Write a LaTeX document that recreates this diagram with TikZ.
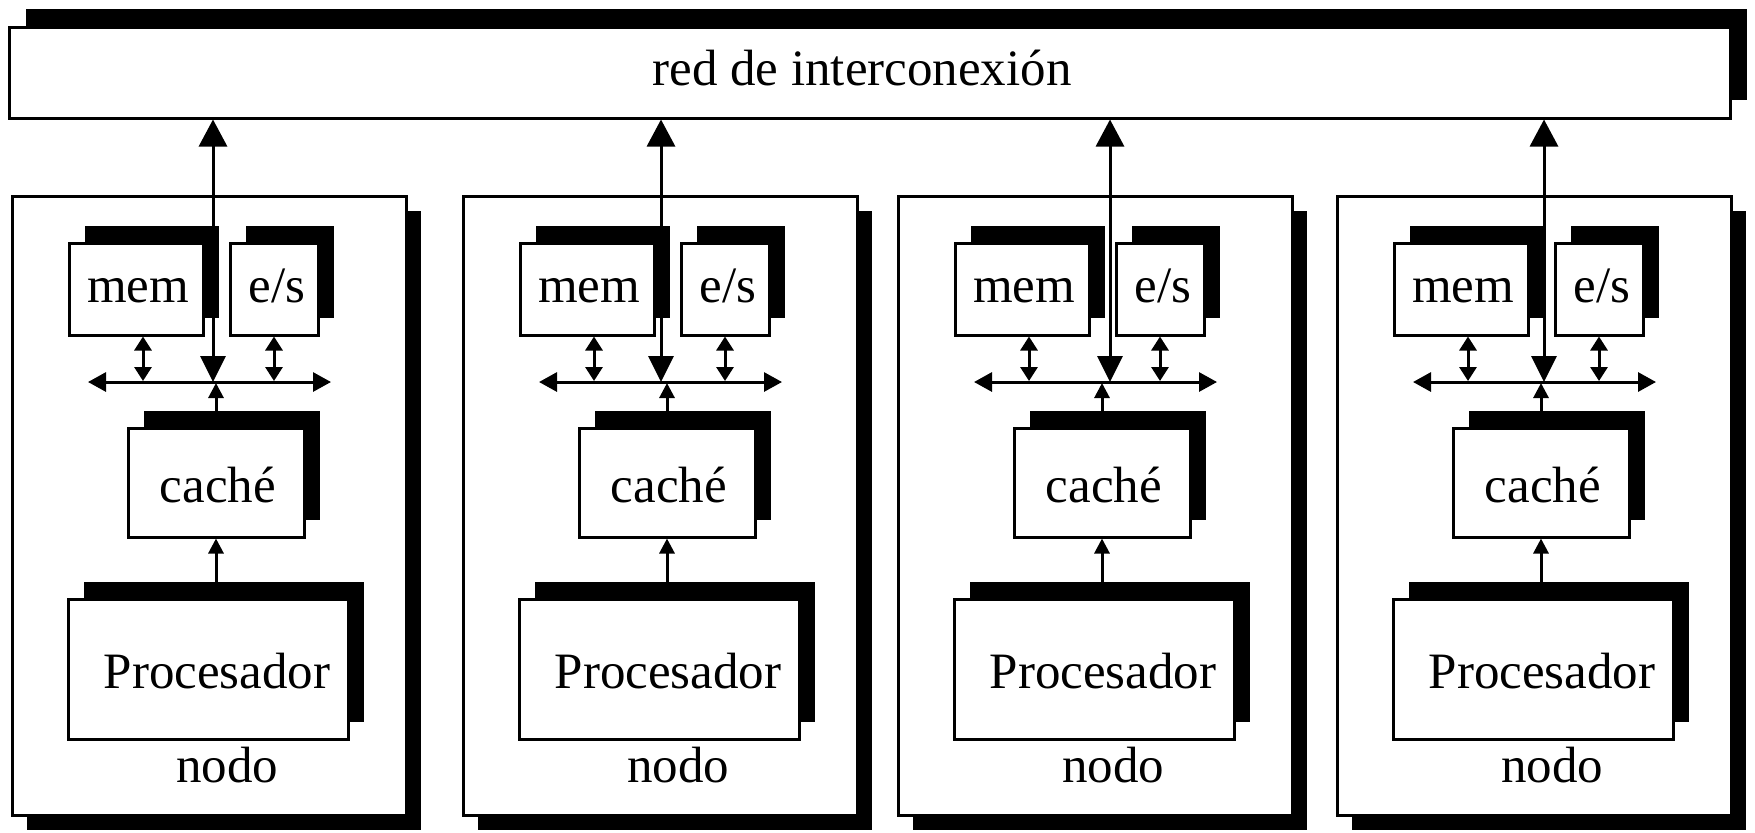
\documentclass[tikz,border=0pt]{standalone}
\usepackage{fontspec}
\setmainfont{Liberation Serif}
\usetikzlibrary{arrows.meta,shadows}
\begin{document}
\begin{tikzpicture}[x=0.5pt,y=-0.5pt,
  lw/.style={line width=1.5pt},
  box/.style={draw=black, fill=white, lw, rectangle, inner sep=0pt},
  innerbox/.style={box, general shadow={fill=black, shadow xshift=8pt, shadow yshift=8.5pt}},
  outerbox/.style={box, general shadow={fill=black, shadow xshift=7.5pt, shadow yshift=-7.5pt}},
  netbox/.style={box, general shadow={fill=black, shadow xshift=8.5pt, shadow yshift=9pt}},
  txt/.style={anchor=base, inner sep=0pt, font=\fontsize{25.5}{30}\selectfont},
  conn/.style={lw, draw=black},
  bigtip/.tip={Triangle[width=14pt,length=13.5pt]},
  downtip/.tip={Triangle[width=12.5pt,length=13pt]},
  bustip/.tip={Triangle[width=9.5pt,length=9pt]},
  smalltip/.tip={Triangle[width=8.5pt,length=7pt]},
  uptip/.tip={Triangle[width=7.5pt,length=7.5pt]}
]
\useasboundingbox (0,0) rectangle (1755,832);
\fill[white] (0,0) rectangle (1755,832);

\node[netbox, minimum width=860.5pt, minimum height=45.5pt] (red) at (869.5,72.5) {};
\node[txt] (tred) at (862,85) {red de interconexión};

\foreach \L/\M/\i in {12/213/1, 463/661/2, 898/1110/3, 1337/1544/4} {
  \node[outerbox, minimum width=197pt, minimum height=309.5pt] (nodo\i) at (\L+197,505.5) {};
  \node[innerbox, minimum width=67pt, minimum height=46pt] (mem\i) at (\L+124,289) {};
  \node[innerbox, minimum width=44pt, minimum height=46pt] (es\i) at (\L+262,289) {};
  \node[innerbox, minimum width=88pt, minimum height=54.5pt] (cache\i) at (\L+204,482.5) {};
  \node[innerbox, minimum width=140pt, minimum height=70pt] (proc\i) at (\L+196,669) {};
  \node[txt] (tmem\i) at (\L+126,302) {mem};
  \node[txt] (tes\i) at (\L+265,302) {e/s};
  \node[txt] (tcache\i) at (\L+206,502) {caché};
  \node[txt] (tproc\i) at (\L+205,688) {Procesador};
  \node[txt] (tnodo\i) at (\L+215,782) {nodo};
  \coordinate (busL\i) at (\L+76,382);
  \coordinate (busR\i) at (\L+319,382);
  \coordinate (busM\i) at (\M,382);
  \coordinate (mA\i) at (\L+131,381);
  \coordinate (eA\i) at (\L+262,381);
  \coordinate (cA\i) at (\L+204,383);
  \coordinate (pT\i) at (\L+204,582);
  \draw[conn, {bustip}-{bustip}] (busL\i) -- (busR\i);
  \draw[conn, {downtip}-{bigtip}] (busM\i) -- (busM\i |- red.south);
  \draw[conn, {smalltip}-{smalltip}] (mem\i.south -| mA\i) -- (mA\i);
  \draw[conn, {smalltip}-{smalltip}] (es\i.south -| eA\i) -- (eA\i);
  \draw[conn, -{uptip}] ([yshift=8pt]cache\i.north) -- (cA\i);
  \draw[conn, -{uptip}] (pT\i) -- (cache\i.south);
}
\end{tikzpicture}
\end{document}
